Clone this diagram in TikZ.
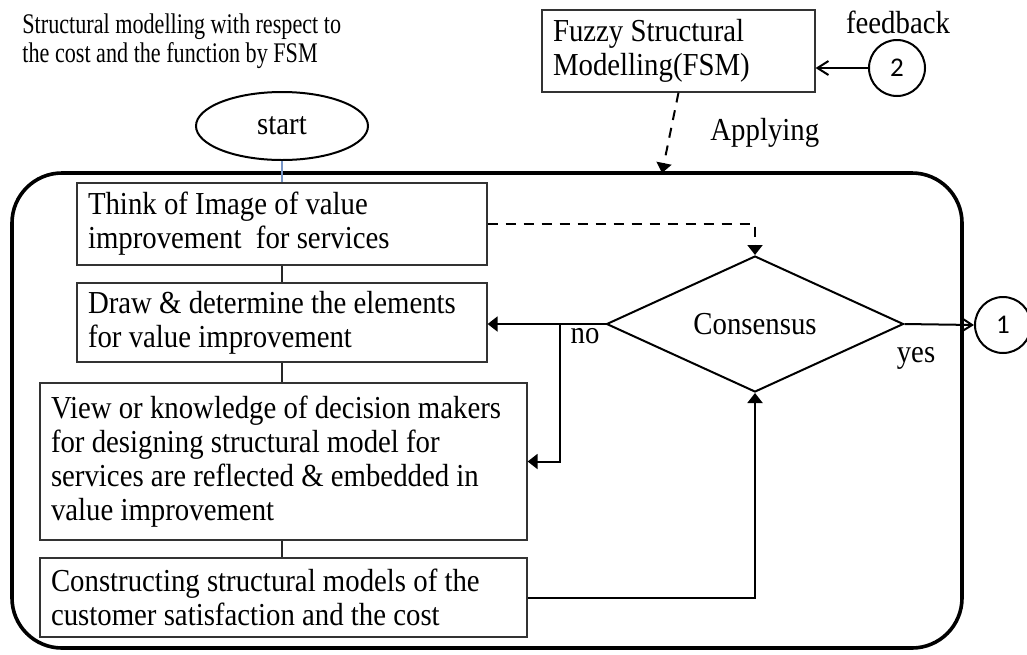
\documentclass[tikz,border=0pt]{standalone}
\usepackage{fontspec}
\setmainfont{Liberation Serif}
\newfontfamily\bodyfont[FakeStretch=0.9]{Liberation Serif}
\newfontfamily\headfont[FakeStretch=0.78]{Liberation Serif}
\newfontfamily\numfont{Carlito}
\usetikzlibrary{shapes.geometric,arrows.meta,calc}
\newcommand\boxfont{\bodyfont\fontsize{16}{17}\selectfont}
\newcommand\titlefont{\headfont\fontsize{14.2}{15}\selectfont}
\begin{document}
\begin{tikzpicture}[x=0.5pt,y=-0.5pt,
  box/.style={draw=black!80, line width=0.6pt, inner xsep=5.5pt, inner ysep=0pt,
    align=flush left, font=\boxfont},
  label/.style={inner sep=0pt, font=\boxfont},
  title/.style={inner sep=0pt, anchor=base west, font=\titlefont},
  ring/.style={circle, draw, line width=1pt, minimum size=28pt, inner sep=0pt,
    font=\numfont\fontsize{13.5}{14}\selectfont},
  link/.style={draw=black!85, line width=0.6pt},
  flow/.style={line width=1pt, -{Triangle[length=5pt,width=7.5pt]}},
  dashflow/.style={line width=1pt, dash pattern=on 5pt off 4pt,
    -{Triangle[length=5pt,width=7.5pt]}},
  barb/.style={line width=1pt, -{Straight Barb[length=5.5pt,width=7pt]}}]
\useasboundingbox (0,0) rectangle (1027,654);

% heading
\node[title] (title1) at (22,33) {Structural modelling with respect to};
\node[title] (title2) at (22,62) {the cost and the function by FSM};

% FSM box with feedback input
\node[box, minimum width=136.5pt, minimum height=41pt, text width=125.5pt]
  (fsm) at (678.5,51) {Fuzzy Structural\\Modelling(FSM)};
\node[ring] (two) at (897,68) {2};
\node[label, anchor=base] (fb) at (898,33) {feedback};
\draw[barb] (two.west) -- (two.west -| fsm.east);

% outer process frame
\node[draw, line width=1.8pt, rounded corners=25pt, minimum width=475pt,
  minimum height=237.5pt, inner sep=0pt] (frame) at (487,410.5) {};
\coordinate (hit) at (662,173);
\draw[dashflow] (fsm.south) -- (hit);
\node[label, anchor=base west] (apply) at (710,140) {Applying};

% start terminal
\node[ellipse, draw, line width=1pt, minimum width=86pt, minimum height=34pt,
  inner sep=0pt, font=\boxfont] (start) at (282,126) {start};

% process steps
\node[box, minimum width=205pt, minimum height=41pt, text width=194pt]
  (think) at (282,224) {Think of Image of value\\improvement \ for services};
\node[box, minimum width=205pt, minimum height=39.5pt, text width=194pt]
  (drawel) at (282,322.5) {Draw \& determine the elements\\for value improvement};
\node[box, minimum width=243.5pt, minimum height=78.5pt, text width=232.5pt]
  (view) at (283.5,461.5) {View or knowledge of decision makers\\for designing structural model for\\services are reflected \& embedded in\\value improvement};
\node[box, minimum width=243.5pt, minimum height=39.5pt, text width=232.5pt]
  (build) at (283.5,597.5) {Constructing structural models of the\\customer satisfaction and the cost};

\draw[draw={rgb,255:red,120;green,150;blue,200}, line width=0.6pt] (start.south) -- (think.north);
\draw[link] (think.south) -- (drawel.north);
\draw[link] (drawel.south) -- (drawel.south |- view.north);
\draw[link] (drawel.south |- view.south) -- (drawel.south |- build.north);

% decision
\node[diamond, draw, line width=1pt, minimum width=148.5pt, minimum height=68pt,
  inner sep=0pt, aspect=2.18, font=\boxfont] (cons) at (755,324) {Consensus};
\draw[dashflow] (think.east) -- (think.east -| cons.north) -- (cons.north);
\draw[flow] (cons.west) -- (cons.west -| drawel.east);
\coordinate (nojoin) at (560,324);
\draw[flow] (nojoin) |- (view.east);
\draw[flow] (build.east) -| (cons.south);
\node[label, anchor=base] (no) at (585,343) {no};
\node[label, anchor=base] (yes) at (916,362) {yes};

% exit connector
\node[ring] (one) at (1003,325) {1};
\draw[barb] (cons.east) -- (one.west);
\end{tikzpicture}
\end{document}
